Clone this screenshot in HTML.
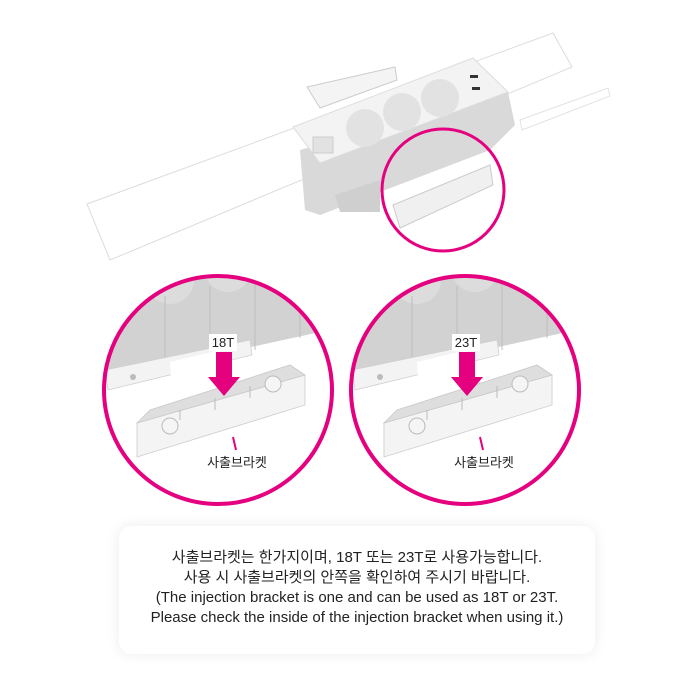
<!DOCTYPE html>
<html><head><meta charset="utf-8"><style>
html,body{margin:0;padding:0;background:#fff;}
body{width:700px;height:700px;position:relative;overflow:hidden;font-family:"Liberation Sans","Noto Sans CJK KR",sans-serif;}
.box{position:absolute;left:119px;top:526px;width:476px;height:128px;background:#fff;border-radius:12px;box-shadow:0 0 14px rgba(0,0,0,0.08);}
.txt{position:absolute;left:119px;top:548px;width:476px;text-align:center;font-size:15px;line-height:20px;color:#222;}
</style></head><body>
<svg width="700" height="520" style="position:absolute;left:0;top:0" xmlns="http://www.w3.org/2000/svg">
<defs>
<clipPath id="cl"><circle cx="218" cy="390" r="114"/></clipPath>
<clipPath id="cr"><circle cx="465" cy="390" r="114"/></clipPath>
<g id="inner">
  <rect x="90" y="270" width="260" height="250" fill="#fff"/>
  <polygon points="100,300 320,250 320,332 100,380" fill="#d2d2d2"/>
  <polygon points="100,265 320,215 320,252 100,302" fill="#e8e8e8"/>
  <circle cx="170" cy="280" r="24" fill="#dcdcdc"/><circle cx="228" cy="268" r="24" fill="#dcdcdc"/>
  <line x1="165" y1="296" x2="165" y2="368" stroke="#bdbdbd"/><line x1="210" y1="286" x2="210" y2="360" stroke="#bdbdbd"/><line x1="255" y1="277" x2="255" y2="350" stroke="#bdbdbd"/><line x1="300" y1="266" x2="300" y2="338" stroke="#bdbdbd"/>
  <polygon points="105,370 250,340 252,355 108,390" fill="#f3f3f3" stroke="#cfcfcf" stroke-width="0.8"/>
  <polygon points="170,362 220,350 222,380 172,392" fill="#fff"/>
  <circle cx="133" cy="377" r="3" fill="#bbb"/>
  <polygon points="137,423 305,375 305,405 137,457" fill="#f4f4f4" stroke="#ccc" stroke-width="0.8"/>
  <polygon points="137,423 150,410 290,365 305,375" fill="#dedede" stroke="#c8c8c8" stroke-width="0.8"/>
  <line x1="180" y1="410" x2="180" y2="420" stroke="#bbb"/><line x1="215" y1="398" x2="215" y2="410" stroke="#bbb"/><line x1="250" y1="386" x2="250" y2="398" stroke="#bbb"/>
  <circle cx="170" cy="426" r="8" fill="#f5f5f5" stroke="#bbb"/><circle cx="273" cy="384" r="8" fill="#f5f5f5" stroke="#bbb"/>
  <line x1="233" y1="437" x2="236" y2="450" stroke="#e4007f" stroke-width="2"/>
</g>
</defs>
<!-- top product -->
<polygon points="87,204 553,33 572,67 110,260" fill="#fff" stroke="#dcdcdc" stroke-width="1"/>
<polygon points="520,120 608,88 610,96 522,130" fill="#fff" stroke="#e2e2e2"/>
<polygon points="300,150 508,92 515,125 490,150 320,215 305,210" fill="#d9d9d9"/>
<polygon points="293,127 473,58 508,92 320,163" fill="#f3f3f3" stroke="#ddd"/>
<circle cx="365" cy="128" r="19" fill="#e2e2e2"/><circle cx="402" cy="112" r="19" fill="#e2e2e2"/><circle cx="440" cy="98" r="19" fill="#e2e2e2"/>
<rect x="313" y="137" width="20" height="16" fill="#e2e2e2" stroke="#ccc"/>
<rect x="470" y="75" width="8" height="3" fill="#333"/><rect x="472" y="87" width="8" height="3" fill="#333"/>
<polygon points="307,87 395,67 397,80 320,108" fill="#f4f4f4" stroke="#ccc"/>
<polygon points="335,195 380,180 380,212 340,212" fill="#cfcfcf"/>
<polygon points="393,205 490,165 493,185 400,228" fill="#f0f0f0" stroke="#ccc"/>
<circle cx="443" cy="190" r="61" fill="none" stroke="#e4007f" stroke-width="3"/>
<!-- circles -->
<g clip-path="url(#cl)"><use href="#inner"/></g>
<g clip-path="url(#cr)"><use href="#inner" transform="translate(247,0)"/></g>
<circle cx="218" cy="390" r="114" fill="none" stroke="#e4007f" stroke-width="4"/>
<circle cx="465" cy="390" r="114" fill="none" stroke="#e4007f" stroke-width="4"/>
<!-- arrows -->
<polygon points="216,352 232,352 232,377 240,377 224,396 208,377 216,377" fill="#e4007f"/>
<polygon points="459,352 475,352 475,377 483,377 467,396 451,377 459,377" fill="#e4007f"/>
<rect x="209" y="334" width="28" height="17" fill="#fff"/>
<rect x="452" y="334" width="28" height="17" fill="#fff"/>
<text x="223" y="347" font-size="13" text-anchor="middle" fill="#222" font-family="Liberation Sans, sans-serif">18T</text>
<text x="466" y="347" font-size="13" text-anchor="middle" fill="#222" font-family="Liberation Sans, sans-serif">23T</text>
<text x="237" y="467" font-size="13" text-anchor="middle" fill="#222" font-family="Liberation Sans, Noto Sans CJK KR, sans-serif">사출브라켓</text>
<text x="484" y="467" font-size="13" text-anchor="middle" fill="#222" font-family="Liberation Sans, Noto Sans CJK KR, sans-serif">사출브라켓</text>
</svg>
<div class="box"></div>
<div class="txt">사출브라켓는 한가지이며, 18T 또는 23T로 사용가능합니다.<br>사용 시 사출브라켓의 안쪽을 확인하여 주시기 바랍니다.<br>(The injection bracket is one and can be used as 18T or 23T.<br>Please check the inside of the injection bracket when using it.)</div>
</body></html>
